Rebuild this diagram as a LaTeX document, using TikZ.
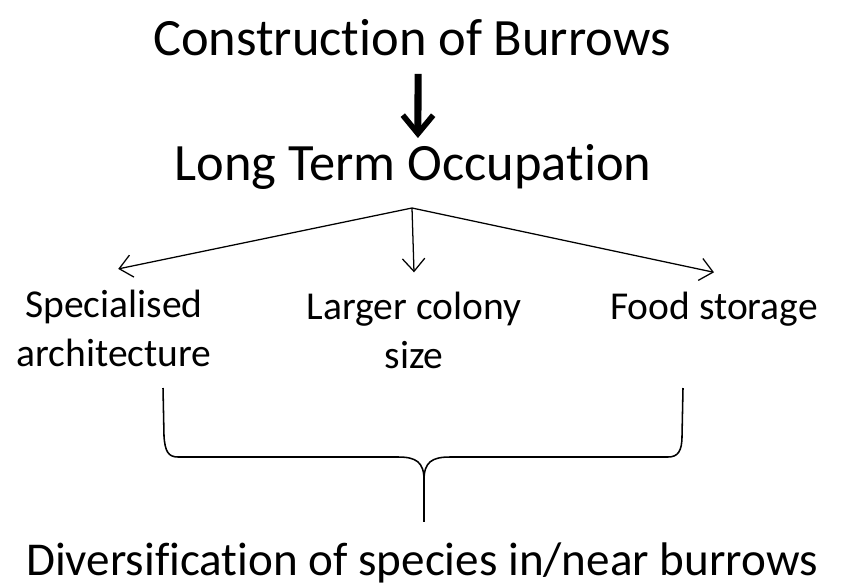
\documentclass[tikz,border=0pt]{standalone}
\usepackage{fontspec}
\setmainfont{Carlito}[Ligatures=NoCommon]
\usetikzlibrary{arrows.meta}

\begin{document}
\begin{tikzpicture}[
  x=0.025cm, y=-0.025cm,
  big/.style={font=\fontsize{37.3}{44}\selectfont, inner sep=0pt, anchor=base},
  small/.style={font=\fontsize{28.1}{34.5}\selectfont, inner sep=0pt, align=center, anchor=north},
  foot/.style={font=\fontsize{33.5}{40}\selectfont, inner sep=0pt, anchor=base},
  heavy arr/.style={-{Straight Barb[length=4.6mm, width=7.6mm, line width=4pt]}, line width=5pt},
  thin arr/.style={-{Straight Barb[length=3.2mm, width=5.6mm]}, line width=0.9pt},
  brace/.style={line width=1.1pt, line join=round}]
  \useasboundingbox (0,0) rectangle (845,585);
  \node[big] (build) at (412,55) {Construction of Burrows};
  \node[big] (occupy) at (413,180) {Long Term Occupation};
  \node[small] (arch) at (114,290) {Specialised\\architecture};
  \node[small] (colony) at (414,292) {Larger colony\\size};
  \node[small] (food) at (714,292) {Food storage};
  \node[foot] (diverse) at (422,575) {Diversification of species in/near burrows};
  \coordinate (split) at (412,208);
  % main arrow
  \draw[heavy arr] ([xshift=4.3pt, yshift=-13pt]build.south) -- ([xshift=3.5pt, yshift=4pt]occupy.north);
  % three branches
  \draw[thin arr] (split) -- ([xshift=3pt, yshift=15pt]arch.north);
  \draw[thin arr] (split) -- ([yshift=14pt]colony.north);
  \draw[thin arr] (split) -- ([yshift=14pt]food.north);
  % brace
  \coordinate (lt) at (163,388);
  \coordinate (rt) at (683,388);
  \coordinate (tip) at (424,480);
  \draw[brace] (lt) -- (164,436) .. controls (165,451) and (168,457) .. (178,457)
    -- (398,457) .. controls (416,457) and (424,462) .. (tip);
  \draw[brace] (tip) .. controls (424,462) and (432,457) .. (450,457)
    -- (668,457) .. controls (678,457) and (682,451) .. (682,436) -- (rt);
  \draw[brace] (tip) -- (424,522);
\end{tikzpicture}
\end{document}
